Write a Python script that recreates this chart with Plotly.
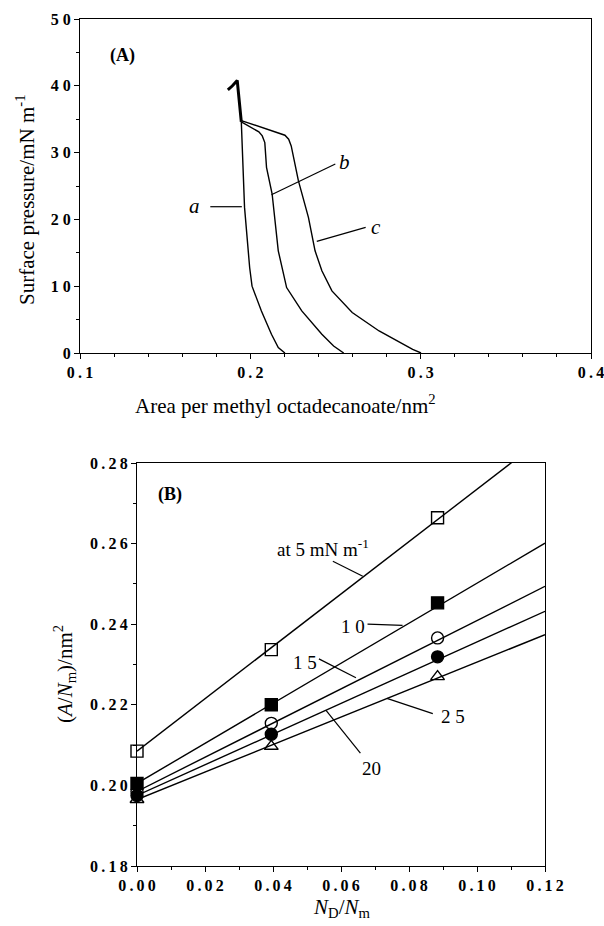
import plotly.graph_objects as go

# ---------------- Panel A data (isotherms) ----------------
a_x = [0.1947, 0.1966, 0.1996, 0.2010, 0.2065, 0.2124, 0.2164, 0.2203]
a_y = [34.6, 21.8, 12.8, 10.0, 6.3, 2.8, 0.8, 0.0]
b_x = [0.1947, 0.2050, 0.2070, 0.2085, 0.2095, 0.2128, 0.2164, 0.2213, 0.2302, 0.2420, 0.2489, 0.2548]
b_y = [34.6, 33.1, 32.5, 31.5, 27.8, 23.8, 15.3, 9.8, 6.3, 2.8, 1.05, 0.0]
c_x = [0.1947, 0.2203, 0.2225, 0.2240, 0.2282, 0.2341, 0.2380, 0.2420, 0.2479, 0.2598, 0.2756, 0.2893, 0.2953, 0.3002]
c_y = [34.8, 32.6, 32.0, 31.0, 25.8, 20.3, 15.3, 12.3, 9.3, 6.05, 3.3, 1.3, 0.55, 0.0]
spike_x = [0.1947, 0.1935, 0.1923, 0.1895, 0.1868]
spike_y = [34.6, 37.5, 40.8, 40.0, 39.4]

# curve labels (text, x, y) and leader lines
a_labels = [("a", 0.167, 22.0), ("b", 0.2555, 28.6), ("c", 0.2735, 18.9)]
a_leaders = [([0.1765, 0.1950], [21.9, 21.9]),
             ([0.2124, 0.2499], [23.7, 28.3]),
             ([0.2390, 0.2677], [16.7, 18.8])]

a_xticks = [0.1, 0.2, 0.3, 0.4]
a_xticktext = ["0.1", "0.2", "0.3", "0.4"]
a_yticks = [0, 10, 20, 30, 40, 50]
a_yticktext = ["0", "1 0", "2 0", "3 0", "4 0", "5 0"]

# ---------------- Panel B data ----------------
b_pts_x = [0.0, 0.0395, 0.0884]
b_series = {
    "5":  [0.2085, 0.2337, 0.2664],
    "10": [0.2005, 0.2200, 0.2453],
    "15": [0.1985, 0.2154, 0.2366],
    "20": [0.1975, 0.2127, 0.2319],
    "25": [0.1965, 0.2097, 0.2270],
}
b_symbols = {"5": "square-open", "10": "square", "15": "circle-open",
             "20": "circle", "25": "triangle-up-open"}
fit_x = [0.0, 0.12]
fit_y = {
    "5":  [0.2085, 0.2865],
    "10": [0.2005, 0.2601],
    "15": [0.1985, 0.2494],
    "20": [0.1975, 0.2432],
    "25": [0.1965, 0.2374],
}
b_labels = [("at 5 mN m<sup>-1</sup>", 0.0546, 0.2589), ("1 0", 0.0634, 0.2395),
            ("1 5", 0.0493, 0.2304), ("20", 0.0691, 0.2042), ("2 5", 0.0930, 0.2170)]
b_leaders = [([0.0576, 0.0664], [0.2556, 0.2519]),
             ([0.0678, 0.0781], [0.2400, 0.2397]),
             ([0.0535, 0.0644], [0.2314, 0.2267]),
             ([0.0556, 0.0657], [0.2186, 0.2080]),
             ([0.0735, 0.0870], [0.2216, 0.2178])]
b_xticks = [0.0, 0.02, 0.04, 0.06, 0.08, 0.10, 0.12]
b_xticktext = ["0.00", "0.02", "0.04", "0.06", "0.08", "0.10", "0.12"]
b_yticks = [0.18, 0.20, 0.22, 0.24, 0.26, 0.28]
b_yticktext = ["0.18", "0.20", "0.22", "0.24", "0.26", "0.28"]

W, H = 604, 926
SERIF = "Liberation Serif, Times New Roman, serif"
TICK = dict(family=SERIF, size=16, color="black", weight="bold")
TITLE = dict(family=SERIF, size=21, color="black")


def spaced(labels):
    return ["\u2009".join(list(s)) for s in labels]


fig = go.Figure()
line_style = dict(color="black", width=1.4)

for xs, ys in [(a_x, a_y), (b_x, b_y), (c_x, c_y)]:
    fig.add_trace(go.Scatter(x=xs, y=ys, mode="lines", line=line_style,
                             xaxis="x", yaxis="y", showlegend=False, hoverinfo="skip"))
fig.add_trace(go.Scatter(x=spike_x, y=spike_y, mode="lines", line=dict(color="black", width=3),
                         xaxis="x", yaxis="y", showlegend=False, hoverinfo="skip"))
for xs, ys in a_leaders:
    fig.add_trace(go.Scatter(x=xs, y=ys, mode="lines", line=dict(color="black", width=1.2),
                             xaxis="x", yaxis="y", showlegend=False, hoverinfo="skip"))

for k in b_series:
    fig.add_trace(go.Scatter(x=fit_x, y=fit_y[k], mode="lines", line=line_style,
                             xaxis="x2", yaxis="y2", showlegend=False, hoverinfo="skip"))
for xs, ys in b_leaders:
    fig.add_trace(go.Scatter(x=xs, y=ys, mode="lines", line=dict(color="black", width=1.2),
                             xaxis="x2", yaxis="y2", showlegend=False, hoverinfo="skip"))
for k, vals in b_series.items():
    fig.add_trace(go.Scatter(x=b_pts_x, y=vals, mode="markers",
                             marker=dict(symbol=b_symbols[k], size=12, color="black",
                                         line=dict(color="black", width=1.4)),
                             xaxis="x2", yaxis="y2", showlegend=False, cliponaxis=False))

ann = []
ann.append(dict(text="<b>(A)</b>", x=0.125, y=44.6, xref="x", yref="y", showarrow=False,
                font=dict(family=SERIF, size=18, color="black")))
for t, x, y in a_labels:
    ann.append(dict(text="<i>%s</i>" % t, x=x, y=y, xref="x", yref="y", showarrow=False,
                    font=dict(family=SERIF, size=21, color="black")))
ann.append(dict(text="<b>(B)</b>", x=0.0098, y=0.2721, xref="x2", yref="y2", showarrow=False,
                font=dict(family=SERIF, size=18, color="black")))
for t, x, y in b_labels:
    ann.append(dict(text=t, x=x, y=y, xref="x2", yref="y2", showarrow=False,
                    font=dict(family=SERIF, size=19, color="black")))

# axis titles placed in paper space (pixel positions of reference)
titles = [
    ("Area per methyl octadecanoate/nm<sup>2</sup>", 285, 404, 0),
    ("Surface pressure/mN m<sup>-1</sup>", 26, 200, -90),
    ("<i>N</i><sub>D</sub>/<i>N</i><sub>m</sub>", 341, 908, 0),
    ("(<i>A</i>/<i>N</i><sub>m</sub>)/nm<sup>2</sup>", 64, 674, -90),
]
for t, px, py, ang in titles:
    ann.append(dict(text=t, x=px / W, y=1 - py / H, xref="paper", yref="paper",
                    showarrow=False, textangle=ang, xanchor="center", yanchor="middle",
                    font=TITLE))


def axis(domain, rng, tickvals, ticktext, minor, anchor):
    return dict(domain=domain, range=rng, tickvals=tickvals, ticktext=ticktext,
                ticks="outside", ticklen=5, tickwidth=1.2, tickcolor="black",
                showline=True, linecolor="black", linewidth=1.3, mirror=True,
                showgrid=False, zeroline=False, tickfont=TICK, automargin=False,
                ticklabeloverflow="allow",
                minor=dict(dtick=minor, ticks="outside", ticklen=3, tickcolor="black", tick0=0),
                anchor=anchor)


xa = axis([80 / W, 591 / W], [0.1, 0.4], a_xticks, spaced(a_xticktext), 0.02, "y")
ya = axis([1 - 353 / H, 1 - 19 / H], [0, 50], a_yticks, a_yticktext, 5, "x")
xb = axis([137 / W, 545 / W], [0, 0.12], b_xticks, spaced(b_xticktext), 0.01, "y2")
yb = axis([1 - 866 / H, 1 - 463 / H], [0.18, 0.28], b_yticks, spaced(b_yticktext), 0.01, "x2")

fig.update_layout(
    width=W, height=H, margin=dict(l=0, r=0, t=0, b=0, autoexpand=False),
    paper_bgcolor="white", plot_bgcolor="white",
    xaxis=xa, yaxis=ya, xaxis2=xb, yaxis2=yb,
    annotations=ann, showlegend=False,
)
fig.write_html("out.html", config={"displayModeBar": False},
               post_script="document.body.style.margin='0px';document.body.style.padding='0px';")
